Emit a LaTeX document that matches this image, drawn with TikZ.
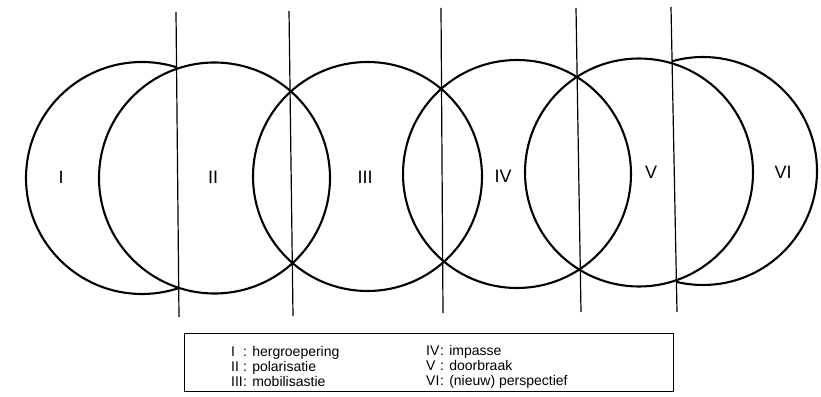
\documentclass[tikz,border=0pt]{standalone}
\usepackage{fontspec}
\setmainfont{Liberation Sans}
\begin{document}
\begin{tikzpicture}[x=1pt,y=1pt,
  ring/.style={line width=2.1pt},
  divider/.style={line width=1.2pt},
  phase/.style={font=\fontsize{18}{18}\selectfont, inner sep=0pt},
  legendbox/.style={draw, line width=1pt},
  legendtext/.style={font=\fontsize{14}{14}\selectfont, anchor=base west, inner sep=0pt}
]
\useasboundingbox (0,0) rectangle (821,396);
% centres
\coordinate (c1) at (142,218);
\coordinate (c2) at (214.5,218);
\coordinate (c3) at (367.5,219.5);
\coordinate (c4) at (517,222);
\coordinate (c5) at (639,223.5);
\coordinate (c6) at (703,225);
% dividers
\coordinate (l1t) at (176,384); \coordinate (l1b) at (179,79);
\coordinate (l2t) at (289,385); \coordinate (l2b) at (293,80);
\coordinate (l3t) at (441,388); \coordinate (l3b) at (443,83);
\coordinate (l4t) at (576,388); \coordinate (l4b) at (581,84);
\coordinate (l5t) at (671,389); \coordinate (l5b) at (677,84);
% circle I (only left of first divider)
\begin{scope}
  \clip (l1t) -- (l1b) -- (0,79) -- (0,396) -- cycle;
  \draw[ring] (c1) circle (116);
\end{scope}
% circle VI (only right of last divider)
\begin{scope}
  \clip (l5t) -- (l5b) -- (821,79) -- (821,396) -- cycle;
  \draw[ring] (c6) circle (114);
\end{scope}
\draw[ring] (c2) circle (115.5);
\draw[ring] (c3) circle (114.5);
\draw[ring] (c4) circle (114);
\draw[ring] (c5) circle (114);
\foreach \i in {1,...,5} { \draw[divider] (l\i t) -- (l\i b); }
% labels
\node[phase] (p1) at (61,219) {I};
\node[phase] (p2) at (213,219) {II};
\node[phase] (p3) at (365,219) {III};
\node[phase] (p4) at (503,220) {IV};
\node[phase] (p5) at (651,224) {V};
\node[phase] (p6) at (783,224) {VI};
% legend
\node[legendbox, minimum width=489pt, minimum height=57pt, anchor=north west] (legend) at (184,62.5) {};
\node[legendtext] (leg1) at (231,39.5) {\makebox[12pt][l]{I}: hergroepering};
\node[legendtext] (leg2) at (231,24.5) {\makebox[12pt][l]{II}: polarisatie};
\node[legendtext] (leg3) at (231,10) {\makebox[12pt][l]{III}: mobilisastie};
\node[legendtext] (leg4) at (426,40.5) {\makebox[14pt][l]{IV}: impasse};
\node[legendtext] (leg5) at (426,25.5) {\makebox[14pt][l]{V}: doorbraak};
\node[legendtext] (leg6) at (426,11) {\makebox[14pt][l]{VI}: (nieuw) perspectief};
\end{tikzpicture}
\end{document}
